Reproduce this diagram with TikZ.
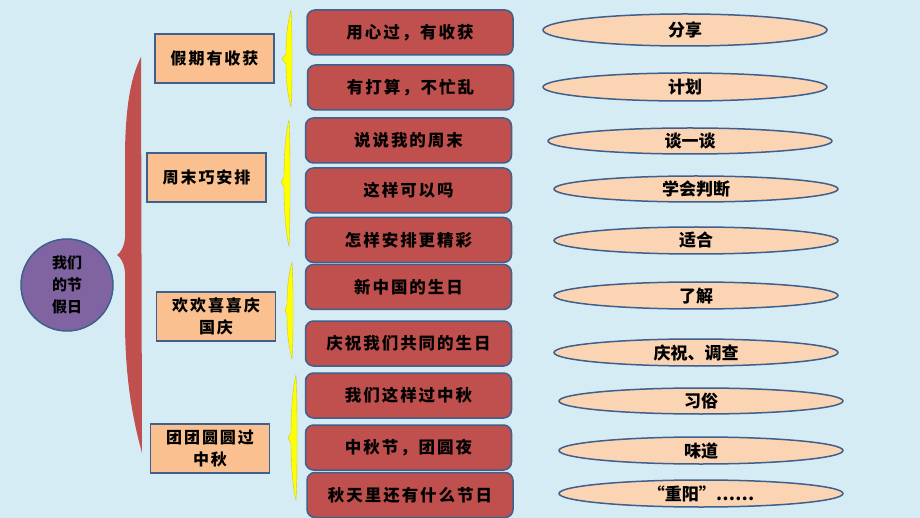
\documentclass[tikz,border=0pt]{standalone}
\usepackage{fontspec}
\newfontfamily\cjk[LetterSpace=12]{Noto Sans CJK SC}
\newfontfamily\cjkplain{Noto Sans CJK SC}
\usetikzlibrary{shapes.geometric}
\definecolor{bgblue}{HTML}{D6ECF5}
\definecolor{boxred}{HTML}{C0504D}
\definecolor{boxorange}{HTML}{FAC08F}
\definecolor{ellpeach}{HTML}{FBD4B4}
\definecolor{edgeblue}{HTML}{3F5F8C}
\definecolor{rootpurple}{HTML}{8064A2}
\definecolor{braceyellow}{HTML}{FFFF00}
\definecolor{braceedge}{HTML}{C8C832}
\newcommand{\yellowbrace}[5]{% xr, yt, yb, xp, yp
  \fill[braceyellow, draw=braceedge, line width=0.4pt]
    (#1,#2) .. controls (#1+1,#2+15) and (#1+1,#5-20) .. (#1+1,#5)
    .. controls (#1+1,#5+20) and (#1+1,#3-15) .. (#1,#3)
    .. controls (#1-4,#3-15) and (#1-5,#5+20) .. (#1-5,#5+5)
    -- (#4,#5) -- (#1-5,#5-5)
    .. controls (#1-5,#5-20) and (#1-4,#2+15) .. (#1,#2) -- cycle;}
\tikzset{
  rootnode/.style={circle, fill=rootpurple, draw=edgeblue, line width=1.5pt,
    minimum size=92pt, inner sep=0pt, align=center,
    font=\cjkplain\bfseries\fontsize{15}{22}\selectfont},
  topicbox/.style={rectangle, fill=boxorange, draw=edgeblue, line width=1.5pt,
    minimum width=119pt, minimum height=49pt, inner sep=0pt, align=center,
    font=\cjk\bfseries\fontsize{16}{22}\selectfont},
  lessonbox/.style={rectangle, rounded corners=8pt, fill=boxred, draw=edgeblue,
    line width=1.5pt, minimum width=206pt, minimum height=45pt, inner sep=0pt,
    font=\cjk\bfseries\fontsize{16.5}{20}\selectfont},
  keyell/.style={ellipse, fill=ellpeach, draw=edgeblue, line width=1.5pt,
    minimum width=284pt, minimum height=27pt, inner sep=0pt,
    text height=14pt, text depth=1pt,
    font=\cjkplain\bfseries\fontsize{17}{20}\selectfont},
}
\begin{document}
\begin{tikzpicture}[x=1pt,y=-1pt]
\path[fill=bgblue, use as bounding box] (0,0) rectangle (920,518);
% big red brace
\fill[boxred] (141,57) -- (142,453)
  .. controls (133,420) and (125,380) .. (125,320) -- (125,272)
  .. controls (124,262) and (120,257) .. (117,255)
  .. controls (120,253) and (124,248) .. (125,238) -- (125,150)
  .. controls (126,100) and (132,75) .. (141,57) -- cycle;
% yellow braces
\yellowbrace{291}{10}{107}{282}{59}
\yellowbrace{289}{120}{246}{281}{182}
\yellowbrace{292}{262}{359}{285}{310}
\yellowbrace{296}{375}{500}{288}{438}
% root
\node[rootnode] (root) at (67,285) {我们\\的节\\假日};
% topics
\node[topicbox] (t1) at (214.5,58.5) {假期有收获};
\node[topicbox] (t2) at (206.5,177.5) {周末巧安排};
\node[topicbox] (t3) at (216,316.5) {欢欢喜喜庆\\国庆};
\node[topicbox] (t4) at (210,448.5) {团团圆圆过\\中秋};
% lessons
\node[lessonbox] (l1) at (410,32.5) {用心过，有收获};
\node[lessonbox] (l2) at (410.5,87.5) {有打算，不忙乱};
\node[lessonbox] (l3) at (408.5,140.5) {说说我的周末};
\node[lessonbox] (l4) at (408.5,190.5) {这样可以吗};
\node[lessonbox] (l5) at (408.5,240) {怎样安排更精彩};
\node[lessonbox] (l6) at (408.5,287) {新中国的生日};
\node[lessonbox] (l7) at (408.5,343.5) {庆祝我们共同的生日};
\node[lessonbox] (l8) at (408.5,395.5) {我们这样过中秋};
\node[lessonbox] (l9) at (408.5,447.5) {中秋节，团圆夜};
\node[lessonbox] (l10) at (410,495) {秋天里还有什么节日};
% key words
\node[keyell, minimum height=32pt] (k1) at (685,30) {分享};
\node[keyell, minimum height=28pt] (k2) at (685,87) {计划};
\node[keyell, minimum height=26pt] (k3) at (690,141) {谈一谈};
\node[keyell, minimum height=26pt] (k4) at (696,189) {学会判断};
\node[keyell] (k5) at (696,240.5) {适合};
\node[keyell] (k6) at (696,295.5) {了解};
\node[keyell] (k7) at (696,352.5) {庆祝、调查};
\node[keyell, minimum height=26pt] (k8) at (701,401) {习俗};
\node[keyell] (k9) at (701,450.5) {味道};
\node[keyell] (k10) at (701,493.5) {“重阳”……};
\end{tikzpicture}
\end{document}
